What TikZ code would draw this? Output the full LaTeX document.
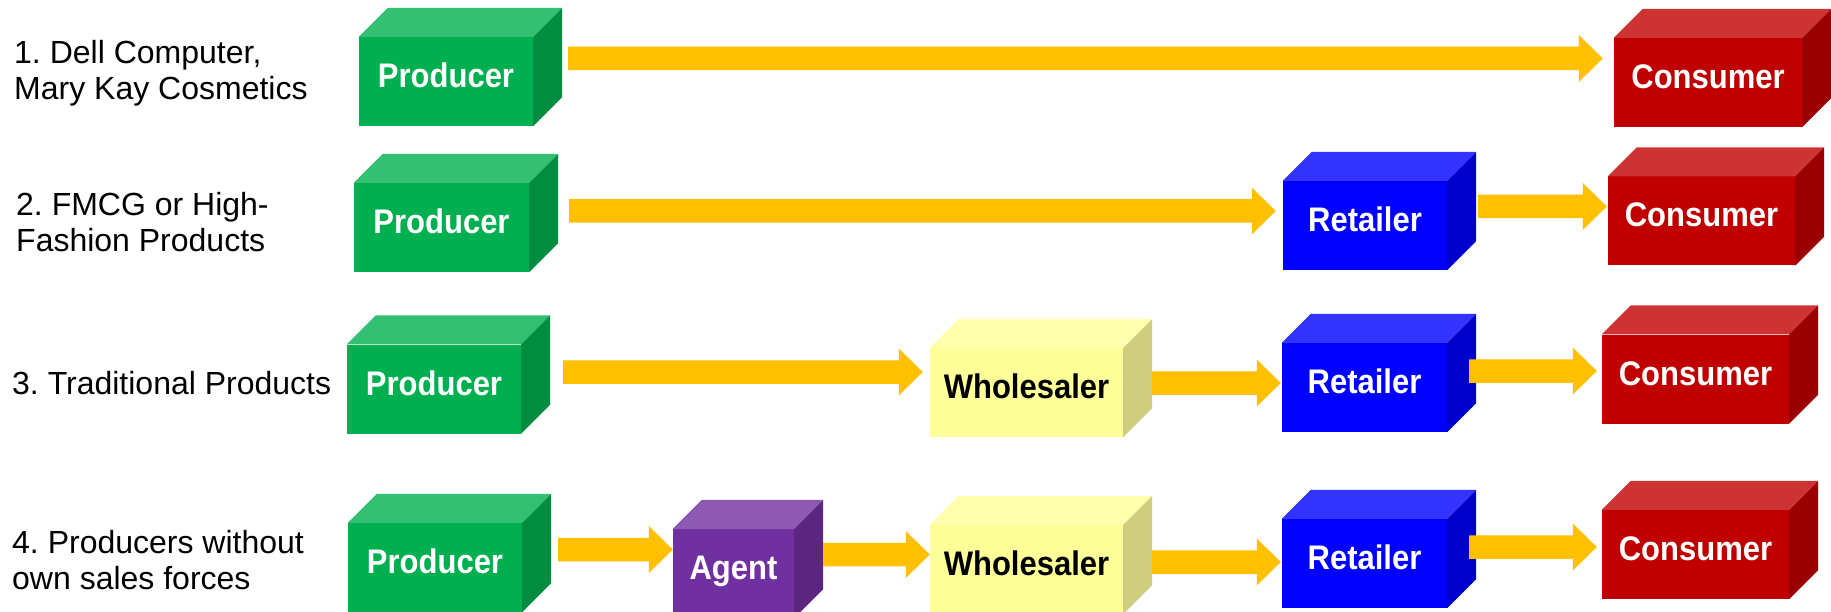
\documentclass[tikz,border=0pt]{standalone}
\usepackage{fontspec}
\setmainfont{Liberation Sans}
\usetikzlibrary{calc}
\frenchspacing
\definecolor{grF}{RGB}{0,176,80}
\definecolor{grT}{RGB}{51,192,115}
\definecolor{grS}{RGB}{0,141,64}
\definecolor{rdF}{RGB}{192,0,0}
\definecolor{rdT}{RGB}{205,51,51}
\definecolor{rdS}{RGB}{154,0,0}
\definecolor{blF}{RGB}{0,0,255}
\definecolor{blT}{RGB}{51,51,255}
\definecolor{blS}{RGB}{0,0,204}
\definecolor{ywF}{RGB}{255,255,153}
\definecolor{ywT}{RGB}{255,255,173}
\definecolor{ywS}{RGB}{206,206,126}
\definecolor{ppF}{RGB}{112,48,160}
\definecolor{ppT}{RGB}{141,89,179}
\definecolor{ppS}{RGB}{90,38,128}
\definecolor{arrowc}{RGB}{255,192,0}
\newcommand\bx[1]{\scalebox{1}[1.1]{#1}}
\newcommand\cubefaces[3]{%
  \fill[#2] (#1.north west) -- ++(29pt,29pt) -- ([shift={(29pt,29pt)}]#1.north east) -- (#1.north east) -- cycle;
  \fill[#3] (#1.north east) -- ++(29pt,29pt) -- ([shift={(29pt,29pt)}]#1.south east) -- (#1.south east) -- cycle;}
\newcommand\flowarrow[2]{%
  \fill[arrowc] let \p1=#1, \p2=#2 in
    (\x1,\y2+11.75pt) -- (\x2-24pt,\y2+11.75pt) -- (\x2-24pt,\y2+23.5pt) -- (\x2,\y2)
    -- (\x2-24pt,\y2-23.5pt) -- (\x2-24pt,\y2-11.75pt) -- (\x1,\y2-11.75pt) -- cycle;}
\tikzset{
  cube/.style={rectangle, inner sep=0pt, minimum height=89pt,
    font=\bfseries\fontsize{31}{31}\selectfont, text height=22pt, text depth=10pt},
  producer/.style={cube, fill=grF, text=white, minimum width=174pt},
  consumer/.style={cube, fill=rdF, text=white, minimum width=187pt},
  retailer/.style={cube, fill=blF, text=white, minimum width=165pt},
  wholesaler/.style={cube, fill=ywF, text=black, minimum width=193pt},
  agent/.style={cube, fill=ppF, text=white, minimum width=121pt},
  lbl/.style={anchor=west, align=left, inner sep=0pt, font=\fontsize{32}{36}\selectfont}
}
\begin{document}
\begin{tikzpicture}[x=1pt,y=-1pt]
\clip (0,0) rectangle (1831,612);
\fill[white] (0,0) rectangle (1831,612);

% labels
\node[lbl] (L1) at (14,73) {1. Dell Computer,\\Mary Kay Cosmetics};
\node[lbl] (L2) at (16,222) {2. FMCG or High-\\Fashion Products};
\node[lbl] (L3) at (12,383) {3. Traditional Products};
\node[lbl] (L4) at (12,560) {4. Producers without\\own sales forces};

% row 1
\node[producer] (P1) at (446,81.5) {\bx{Producer}};
\node[consumer, minimum width=188pt] (C1) at (1708,82.5) {\bx{Consumer}};
% row 2
\node[producer, minimum width=175pt] (P2) at (441.5,227.5) {\bx{Producer}};
\node[retailer, minimum width=164pt] (R2) at (1365,225.5) {\bx{Retailer}};
\node[consumer] (C2) at (1701.5,221) {\bx{Consumer}};
% row 3
\node[producer] (P3) at (434,389) {\bx{Producer}};
\node[wholesaler] (W3) at (1026.5,392.5) {\bx{Wholesaler}};
\node[retailer] (R3) at (1364.5,387.5) {\bx{Retailer}};
\node[consumer] (C3) at (1695.5,379) {\bx{Consumer}};
% row 4
\node[producer] (P4) at (435,567.5) {\bx{Producer}};
\node[agent] (A4) at (733.5,573.5) {\bx{Agent}};
\node[wholesaler] (W4) at (1026.5,569.5) {\bx{Wholesaler}};
\node[retailer] (R4) at (1364.5,563.5) {\bx{Retailer}};
\node[consumer] (C4) at (1695.5,554.5) {\bx{Consumer}};

\foreach \n in {P1,P2,P3,P4}{\cubefaces{\n}{grT}{grS}}
\foreach \n in {C1,C2,C3,C4}{\cubefaces{\n}{rdT}{rdS}}
\foreach \n in {R2,R3,R4}{\cubefaces{\n}{blT}{blS}}
\foreach \n in {W3,W4}{\cubefaces{\n}{ywT}{ywS}}
\cubefaces{A4}{ppT}{ppS}

% connectors
\flowarrow{([xshift=35pt]P1.east)}{([xshift=-11pt,yshift=24pt]C1.west)}
\flowarrow{([xshift=40pt]P2.east)}{([xshift=-7pt,yshift=14.5pt]R2.west)}
\flowarrow{([xshift=31pt]R2.east)}{([xshift=-1pt,yshift=14.5pt]C2.west)}
\flowarrow{([xshift=42pt]P3.east)}{([xshift=-7pt,yshift=20.5pt]W3.west)}
\flowarrow{([xshift=29pt]W3.east)}{([xshift=-1pt,yshift=4.5pt]R3.west)}
\flowarrow{([xshift=22pt]R3.east)}{([xshift=-5pt,yshift=8pt]C3.west)}
\flowarrow{([xshift=36pt]P4.east)}{([yshift=24pt]A4.west)}
\flowarrow{([xshift=29pt]A4.east)}{([yshift=15pt]W4.west)}
\flowarrow{([xshift=29pt]W4.east)}{([xshift=-1pt,yshift=1.5pt]R4.west)}
\flowarrow{([xshift=22pt]R4.east)}{([xshift=-5pt,yshift=7.5pt]C4.west)}
\end{tikzpicture}
\end{document}
